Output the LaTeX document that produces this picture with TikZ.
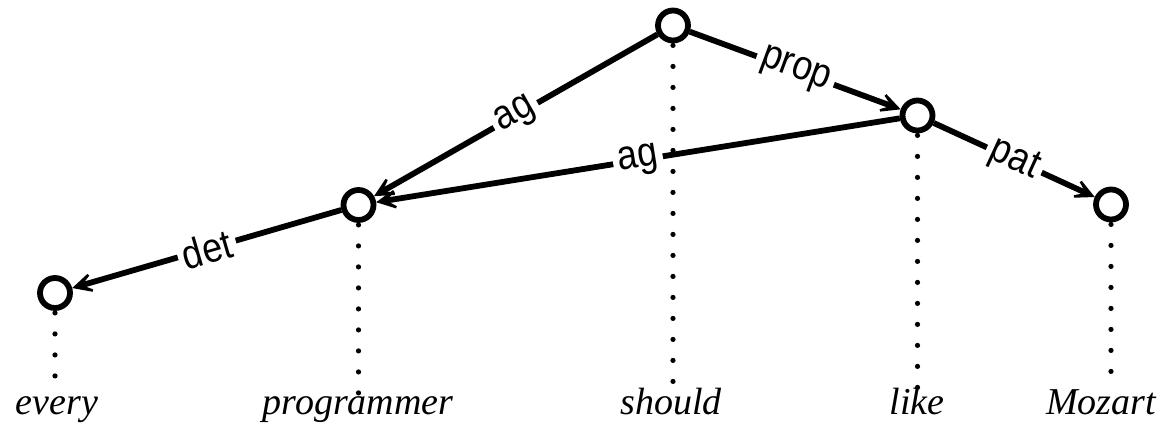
\documentclass[tikz,border=0pt]{standalone}
\usepackage{fontspec}
\usepackage{graphicx}
\setmainfont{Liberation Serif}
\newfontfamily\lblfont{Liberation Sans}
\newcommand{\lbltext}[1]{\scalebox{1}[1.15]{#1}}
\usetikzlibrary{arrows.meta}
\begin{document}
\begin{tikzpicture}[x=1pt,y=-1pt,
  vert/.style={circle,draw,line width=5.8pt,fill=white,minimum size=30pt,inner sep=0pt},
  word/.style={anchor=base,inner sep=0pt,font=\fontsize{38}{42}\selectfont\itshape},
  dotline/.style={line width=5.2pt,line cap=round,dash pattern=on 0pt off 21pt},
  dep/.style={line width=5.8pt,-{Stealth[length=32pt,width=32pt,inset=22pt]}},
  lbl/.style={midway,sloped,fill=white,inner xsep=5pt,inner ysep=1pt,font=\fontsize{36}{38}\selectfont\lblfont}]
\useasboundingbox (0,0) rectangle (1172,424);
\node[vert] (should) at (673,25.5) {};
\node[vert] (like) at (917.5,115.5) {};
\node[vert] (mozart) at (1111,204.5) {};
\node[vert] (prog) at (358.5,205) {};
\node[vert] (every) at (55,293) {};
\node[word] (wevery) at (57,414) {every};
\node[word] (wprog) at (358,414) {programmer};
\node[word] (wshould) at (671,414) {should};
\node[word] (wlike) at (917,414) {like};
\node[word] (wmozart) at (1101,414) {Mozart};
\draw[dotline] ([yshift=-2pt]every.south) -- (every.south |- wevery.north);
\draw[dotline] ([yshift=-2pt]prog.south) -- (prog.south |- wprog.north);
\draw[dotline] ([yshift=-2pt]should.south) -- (should.south |- wshould.north);
\draw[dotline] ([yshift=-2pt]like.south) -- (like.south |- wlike.north);
\draw[dotline] ([yshift=-2pt]mozart.south) -- (mozart.south |- wmozart.north);
\draw[dep] (should) -- node[lbl] {\lbltext{ag}} (prog);
\draw[dep] (should) -- node[lbl] {\lbltext{prop}} (like);
\draw[dep] (like) -- node[lbl] {\lbltext{ag}} (prog);
\draw[dep] (like) -- node[lbl] {\lbltext{pat}} (mozart);
\draw[dep] (prog) -- node[lbl] {\lbltext{det}} (every);
\end{tikzpicture}
\end{document}
